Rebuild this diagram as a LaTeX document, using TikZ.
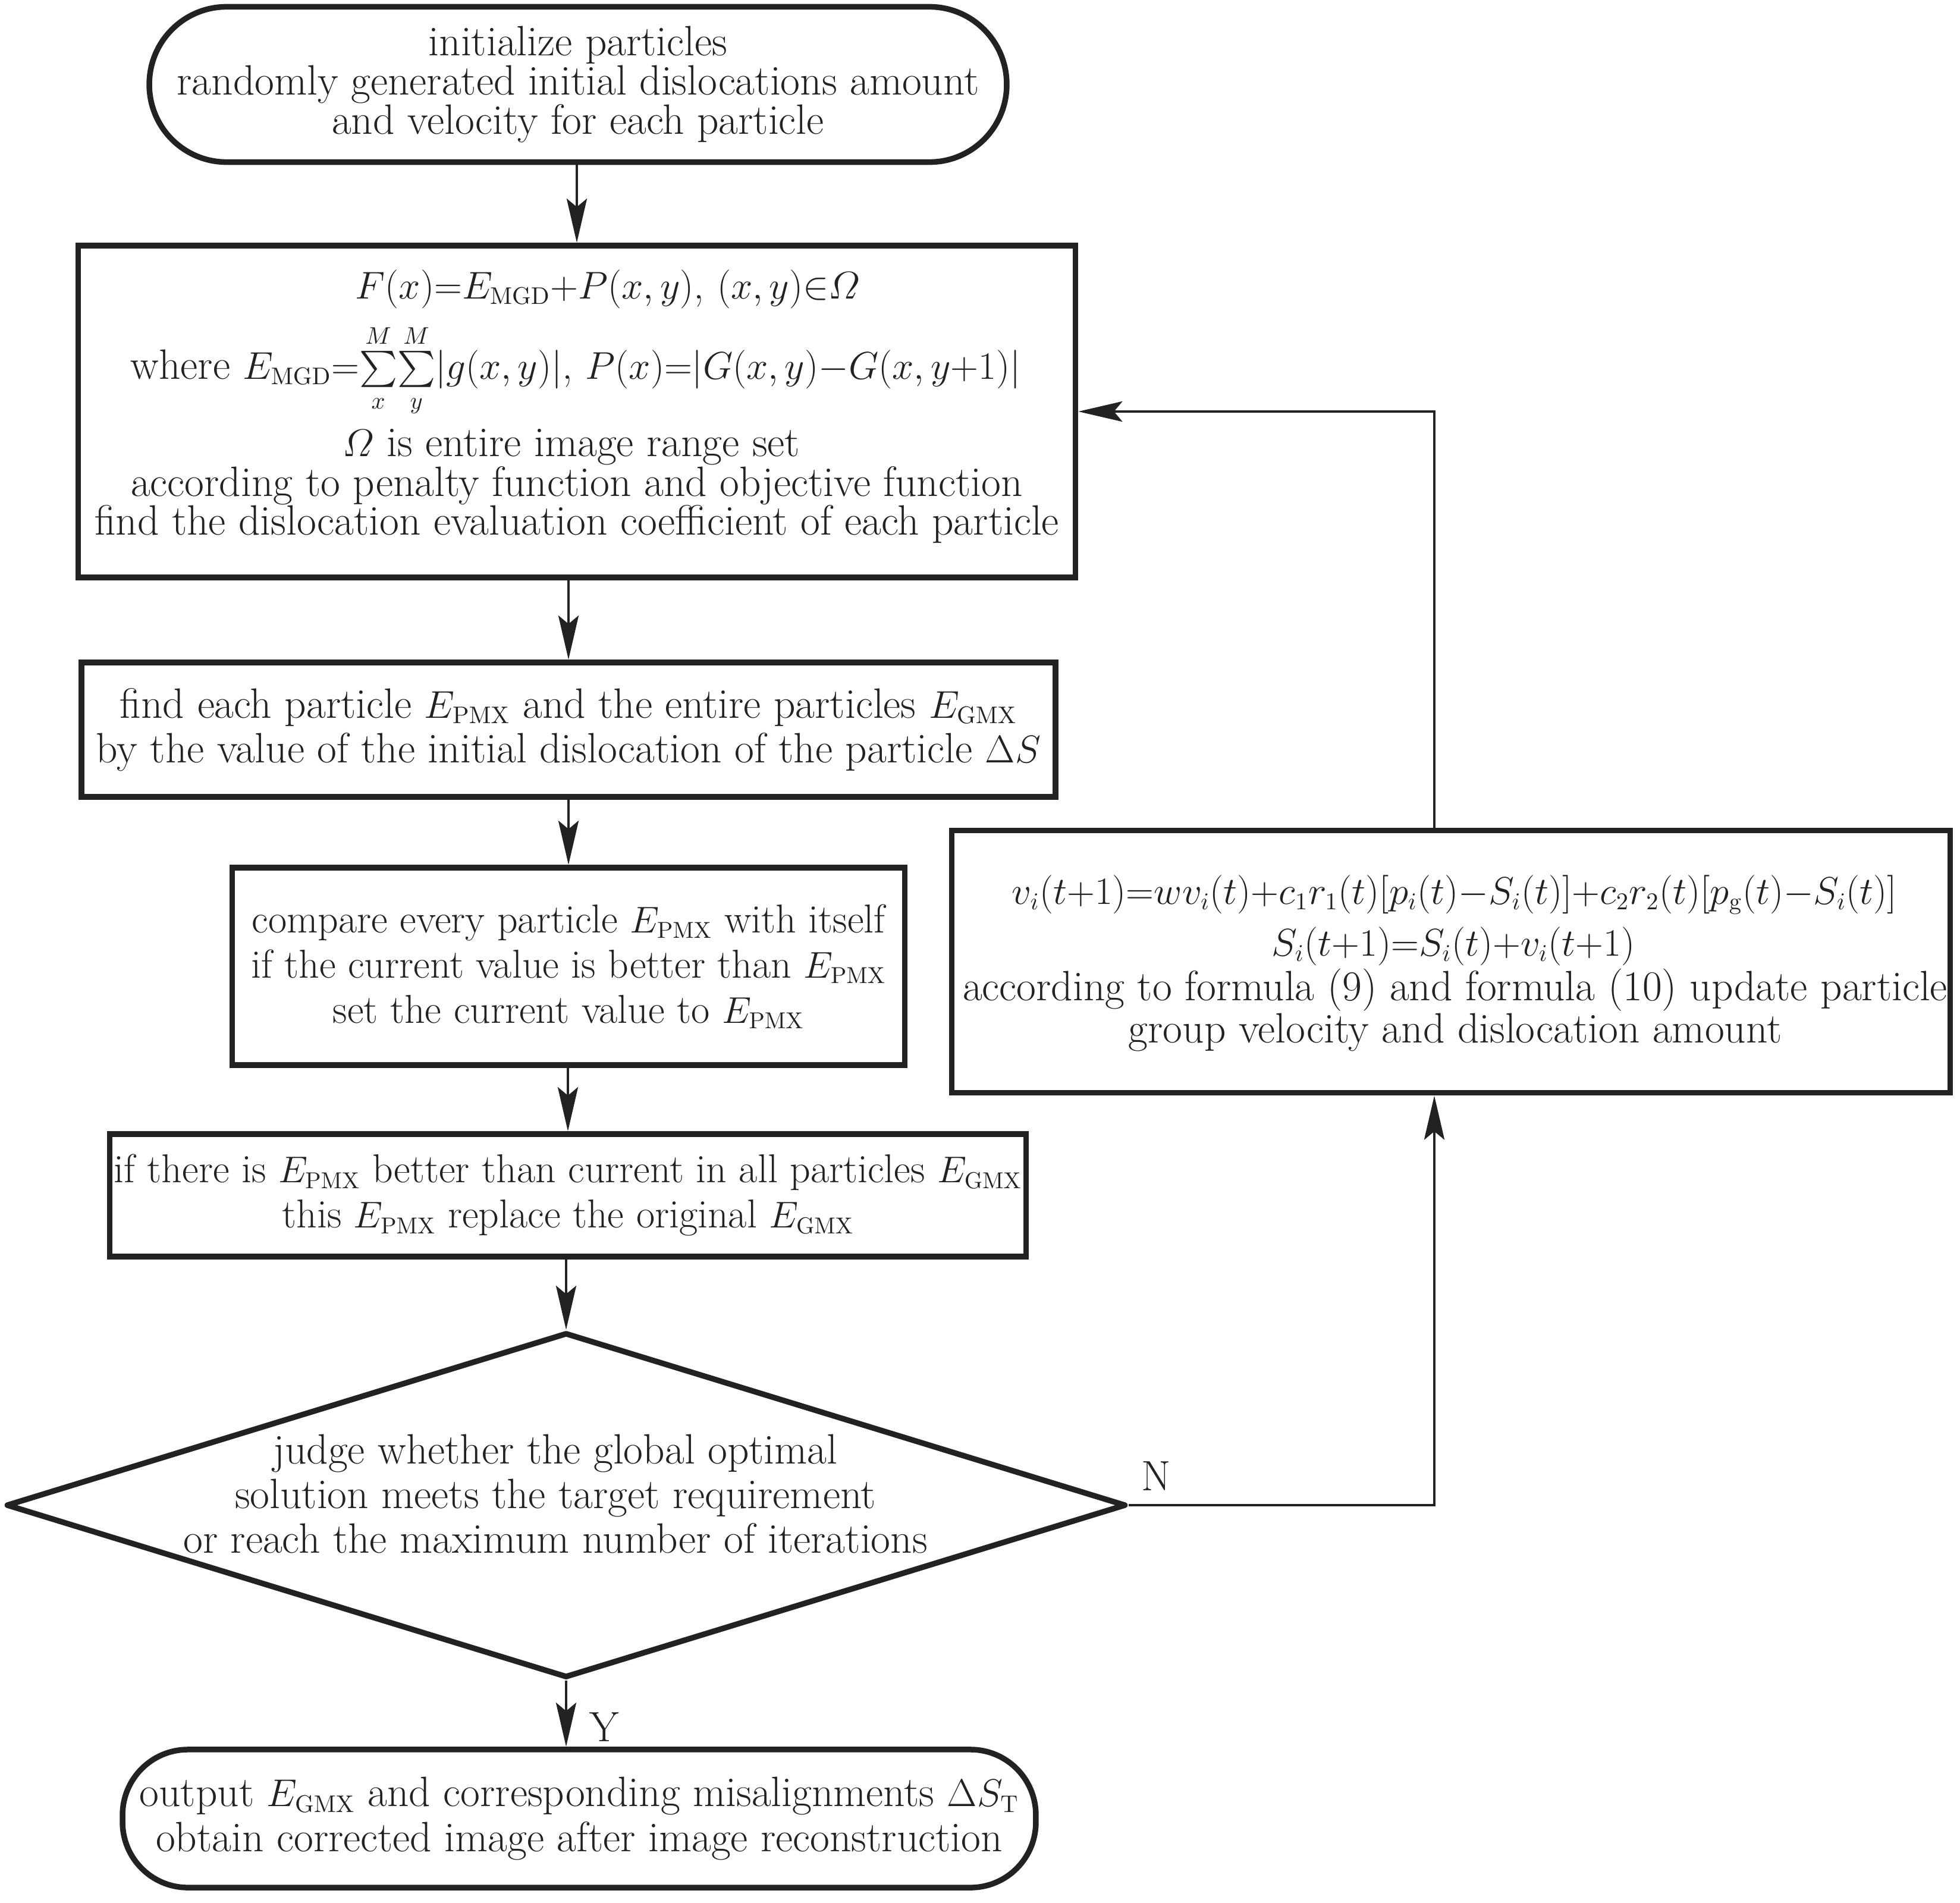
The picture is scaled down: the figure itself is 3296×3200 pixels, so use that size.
\RequirePackage{fix-cm}
\documentclass[tikz,border=0pt]{standalone}
\usepackage{amsmath}
\usetikzlibrary{arrows.meta,shapes.geometric,calc}
\definecolor{ink}{RGB}{34,34,34}
\DeclareMathSizes{20.3}{18.5}{11.5}{9}
\DeclareMathSizes{19.3}{17.8}{11}{8.5}
\tikzset{
  txt/.style={font=\fontsize{20.3}{18.8}\selectfont, text=ink, inner sep=0pt},
  txtm/.style={font=\fontsize{20.3}{21.4}\selectfont, text=ink, inner sep=0pt},
  txts/.style={font=\fontsize{19.3}{21.6}\selectfont, text=ink, inner sep=0pt},
  frame/.style={draw=ink, line width=2.7pt, inner sep=0pt},
  boxshape/.style={frame, rectangle},
  termshape/.style={frame, rectangle, rounded corners=#1},
  conn/.style={draw=ink, line width=1.4pt, -{Stealth[length=0.74cm, width=0.34cm, inset=0.14cm]}},
}
\newcommand{\Esub}[1]{E_{\mathrm{#1}}}
\begin{document}
\begin{tikzpicture}[x=0.01cm, y=-0.01cm]
\useasboundingbox (0,0) rectangle (3296,3200);

% start terminator
\node[termshape=1.3cm, minimum width=14.41cm, minimum height=2.61cm, align=center, txt] (init) at (972,142)
  {initialize particles\\randomly generated initial dislocations amount\\and velocity for each particle};

% objective function box
\node[boxshape, minimum width=16.76cm, minimum height=5.58cm] (b2) at (970,692) {};
\node[txt, anchor=base] (b2a) at (1022,502) {$F(x){=}\Esub{MGD}{+}P(x, y)$, $(x, y){\in}\varOmega$};
\node[txt, anchor=base] (b2b) at (968,637) {where $\Esub{MGD}{=}\!\sum\limits_{x}^{M}\!\sum\limits_{y}^{M}\!|g(x, y)|$, $P(x){=}|G(x, y){-}G(x, y{+}1)|$};
\node[txt, anchor=base] (b2c) at (961,767) {$\varOmega$ is entire image range set};
\node[txt, anchor=base] (b2d) at (970,834) {according to penalty function and objective function};
\node[txt, anchor=base] (b2e) at (970,899) {find the dislocation evaluation coefficient of each particle};

% find pbest / gbest
\node[boxshape, minimum width=16.37cm, minimum height=2.26cm, align=center, txtm] (b3) at (956,1227)
  {find each particle $\Esub{PMX}$ and the entire particles $\Esub{GMX}$\\by the value of the initial dislocation of the particle $\Delta S$};

% compare
\node[boxshape, minimum width=11.30cm, minimum height=3.32cm, align=center, txts] (b4) at (956,1625)
  {compare every particle $\Esub{PMX}$ with itself\\if the current value is better than $\Esub{PMX}$\\set the current value to $\Esub{PMX}$};

% replace
\node[boxshape, minimum width=15.40cm, minimum height=2.06cm, align=center, txts] (b5) at (955,2010)
  {if there is $\Esub{PMX}$ better than current in all particles $\Esub{GMX}$\\this $\Esub{PMX}$ replace the original $\Esub{GMX}$};

% decision
\node[frame, diamond, line join=round, minimum width=18.82cm, minimum height=5.80cm] (dia) at (952,2531) {};
\node[txtm, align=center] (dtxt) at (934,2512)
  {judge whether the global optimal\\solution meets the target requirement\\or reach the maximum number of iterations};

% end terminator
\node[termshape=1.1cm, minimum width=15.35cm, minimum height=2.32cm, align=center, txtm] (endt) at (974,3058)
  {output $\Esub{GMX}$ and corresponding misalignments $\Delta S_{\mathrm{T}}$\\obtain corrected image after image reconstruction};

% update box
\node[boxshape, minimum width=16.78cm, minimum height=4.41cm] (rb) at (2440,1617) {};
\node[txt, anchor=base] (rba) at (2446,1520) {$v_i(t{+}1){=}wv_i(t){+}c_1r_1(t)[p_i(t){-}S_i(t)]{+}c_2r_2(t)[p_{\mathrm{g}}(t){-}S_i(t)]$};
\node[txt, anchor=base] (rbb) at (2444,1607) {$S_i(t{+}1){=}S_i(t){+}v_i(t{+}1)$};
\node[txt, anchor=base] (rbc) at (2447,1682) {according to formula (9) and formula (10) update particle};
\node[txt, anchor=base] (rbd) at (2447,1753) {group velocity and dislocation amount};

% labels
\node[txt] (lblN) at (1944,2482) {N};
\node[txt] (lblY) at (1016,2904) {Y};

% connectors
\draw[conn] (b2.north |- init.south) -- (b2.north);
\draw[conn] (b3.north |- b2.south) -- (b3.north);
\draw[conn] (b4.north |- b3.south) -- (b4.north);
\draw[conn] (b5.north |- b4.south) -- (b5.north);
\draw[conn] (dia.north |- b5.south) -- (dia.north);
\draw[conn] (dia.south) -- (dia.south |- endt.north);

\coordinate (lx) at (2412,0);
\draw[conn] (dia.east) -- (dia.east -| lx) -- (lx |- rb.south);
\draw[conn] (rb.north -| lx) -- (lx |- b2.east) -- (b2.east);
\end{tikzpicture}
\end{document}
